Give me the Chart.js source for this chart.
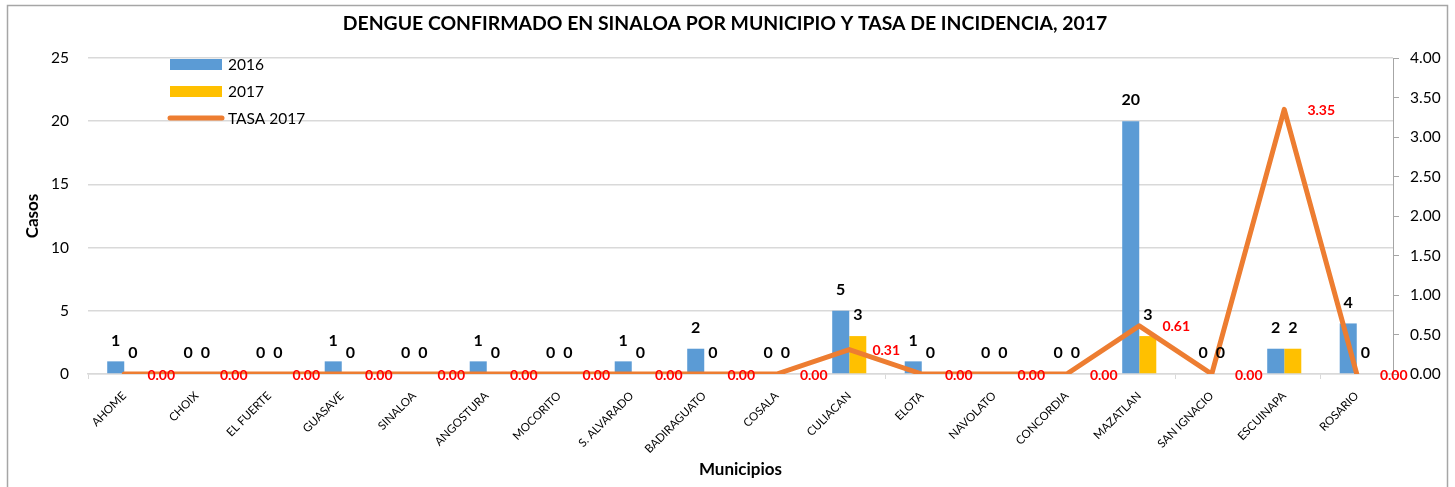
<!DOCTYPE html>
<html>
<head>
<meta charset="utf-8">
<script src="https://cdn.jsdelivr.net/npm/chart.js@4.4.0/dist/chart.umd.min.js"></script>
<style>
html,body{margin:0;padding:0;background:#fff;}
#wrap{position:relative;width:1455px;height:487px;}
</style>
</head>
<body>
<div id="wrap"><canvas id="c" width="1455" height="487"></canvas></div>
<script>
const categories = ["AHOME","CHOIX","EL FUERTE","GUASAVE","SINALOA","ANGOSTURA","MOCORITO","S. ALVARADO","BADIRAGUATO","COSALA","CULIACAN","ELOTA","NAVOLATO","CONCORDIA","MAZATLAN","SAN IGNACIO","ESCUINAPA","ROSARIO"];
const cases2016 = [1,0,0,1,0,1,0,1,2,0,5,1,0,0,20,0,2,4];
const cases2017 = [0,0,0,0,0,0,0,0,0,0,3,0,0,0,3,0,2,0];
const tasa2017 = [0,0,0,0,0,0,0,0,0,0,0.31,0,0,0,0.61,0,3.35,0];
const leftTicks = [0,5,10,15,20,25];
const rightTicks = [0,0.5,1,1.5,2,2.5,3,3.5,4];
const titleText = "DENGUE CONFIRMADO EN SINALOA POR MUNICIPIO Y TASA DE INCIDENCIA, 2017";

const BLUE = "#5B9BD5", YELLOW = "#FFC000", ORANGE = "#ED7D31";
const FONT = "Lato, 'Open Sans', sans-serif";

const decor = {
  id: 'decor',
  beforeDraw(chart) {
    const ctx = chart.ctx;
    ctx.save();
    ctx.fillStyle = '#fff';
    ctx.fillRect(0, 0, chart.width, chart.height);
    ctx.strokeStyle = '#a6a6a6';
    ctx.lineWidth = 1.5;
    ctx.strokeRect(7.5, 5.5, 1440, 520);
    ctx.restore();
  },
  afterDraw(chart) {
    const ctx = chart.ctx;
    const ca = chart.chartArea;
    ctx.save();
    // title
    ctx.fillStyle = '#000';
    ctx.font = "bold 19.4px " + FONT;
    ctx.textAlign = 'center';
    ctx.textBaseline = 'middle';
    ctx.fillText(titleText, 725, 24);
    // axis titles
    ctx.font = "bold 17px " + FONT;
    ctx.fillText("Municipios", (ca.left + ca.right) / 2, 470);
    ctx.save();
    ctx.translate(33, (ca.top + ca.bottom) / 2);
    ctx.rotate(-Math.PI / 2);
    ctx.fillText("Casos", 0, 0);
    ctx.restore();
    // data labels for bars
    ctx.font = "bold 16px " + FONT;
    ctx.fillStyle = '#000';
    [0, 1].forEach(di => {
      const meta = chart.getDatasetMeta(di);
      meta.data.forEach((el, i) => {
        const v = chart.data.datasets[di].data[i];
        ctx.fillText(String(v), el.x, el.y - 21);
      });
    });
    // data labels for line
    ctx.font = "bold 14px " + FONT;
    ctx.fillStyle = '#FF0000';
    const lm = chart.getDatasetMeta(2);
    lm.data.forEach((el, i) => {
      const v = chart.data.datasets[2].data[i];
      ctx.fillText(v.toFixed(2), el.x + 37, el.y + 1);
    });
    // legend
    ctx.textAlign = 'left';
    ctx.font = "15.5px " + FONT;
    ctx.fillStyle = BLUE;
    ctx.fillRect(170, 59, 52, 11);
    ctx.fillStyle = YELLOW;
    ctx.fillRect(170, 86, 52, 11);
    ctx.strokeStyle = ORANGE;
    ctx.lineWidth = 5;
    ctx.lineCap = 'round';
    ctx.beginPath();
    ctx.moveTo(170, 118);
    ctx.lineTo(222, 118);
    ctx.stroke();
    ctx.fillStyle = '#000';
    ctx.fillText("2016", 228, 65);
    ctx.fillText("2017", 228, 92);
    ctx.fillText("TASA 2017", 228, 119);
    ctx.restore();
  }
};

new Chart(document.getElementById('c'), {
  type: 'bar',
  data: {
    labels: categories,
    datasets: [
      { label: '2016', data: cases2016, backgroundColor: BLUE, yAxisID: 'y', order: 2,
        categoryPercentage: 0.47, barPercentage: 1.0 },
      { label: '2017', data: cases2017, backgroundColor: YELLOW, yAxisID: 'y', order: 2,
        categoryPercentage: 0.47, barPercentage: 1.0 },
      { label: 'TASA 2017', type: 'line', data: tasa2017, borderColor: ORANGE, backgroundColor: ORANGE,
        borderWidth: 5, pointRadius: 0, tension: 0, yAxisID: 'y1', order: 1,
        borderJoinStyle: 'round', borderCapStyle: 'round' }
    ]
  },
  options: {
    responsive: false,
    animation: false,
    devicePixelRatio: 1,
    layout: { padding: { top: 58, left: 0, right: 0, bottom: 0 } },
    plugins: { legend: { display: false }, title: { display: false }, tooltip: { enabled: false } },
    scales: {
      x: {
        grid: { display: true, drawOnChartArea: false, drawTicks: true, tickLength: 5, color: '#d9d9d9', offset: true },
        border: { display: true, color: '#d9d9d9', width: 1.5 },
        ticks: { color: '#000', font: { family: FONT, size: 11.5 }, minRotation: 45, maxRotation: 45, autoSkip: false, padding: 10 },
        afterFit(s) { s.height = 113; }
      },
      y: {
        position: 'left',
        min: 0, max: 25,
        afterBuildTicks(s) { s.ticks = leftTicks.map(v => ({ value: v })); },
        grid: { color: '#d9d9d9', lineWidth: 1.5, drawTicks: false },
        border: { display: false },
        ticks: { color: '#000', font: { family: FONT, size: 15.5 }, padding: 19 },
        afterFit(s) { s.width = 88; }
      },
      y1: {
        position: 'right',
        min: 0, max: 4,
        afterBuildTicks(s) { s.ticks = rightTicks.map(v => ({ value: v })); },
        grid: { drawOnChartArea: false, drawTicks: true, tickLength: 6, color: '#a6a6a6' },
        border: { display: true, color: '#a6a6a6' },
        ticks: { color: '#000', font: { family: FONT, size: 15.5 }, padding: 11, callback: v => Number(v).toFixed(2) },
        afterFit(s) { s.width = 62; }
      }
    }
  },
  plugins: [decor]
});
</script>
</body>
</html>
